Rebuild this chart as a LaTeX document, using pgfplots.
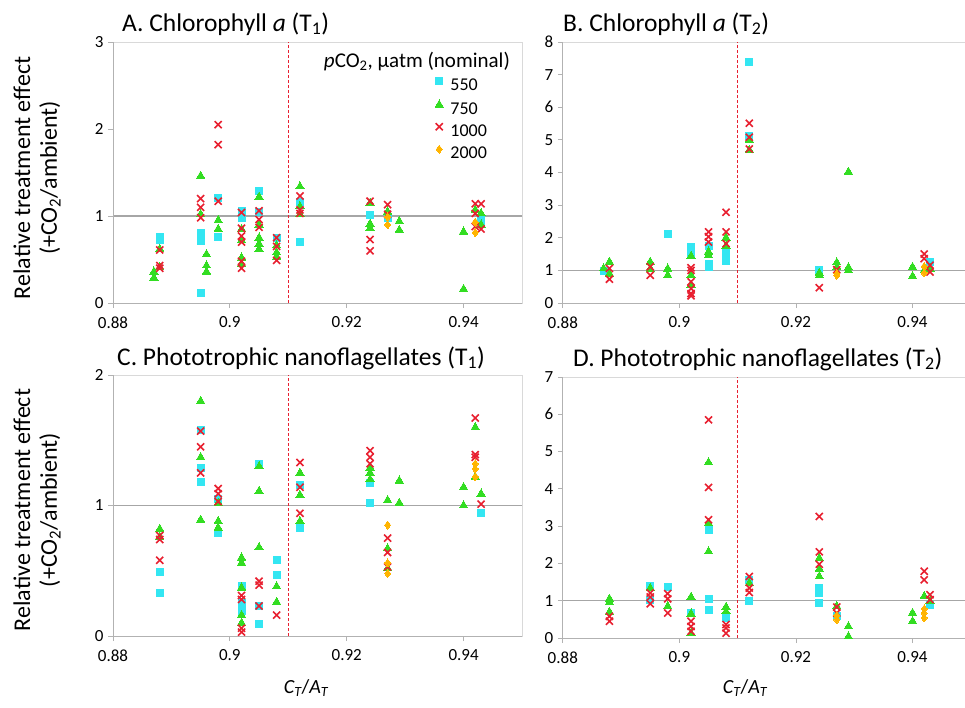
\documentclass[border=0pt]{standalone}
\usepackage{fontspec}
\setmainfont{Carlito}
\usepackage{pgfplots}
\pgfplotsset{compat=1.18}

\definecolor{c550}{RGB}{51,230,242}
\definecolor{c750}{RGB}{51,221,34}
\definecolor{c1000}{RGB}{232,32,48}
\definecolor{c2000}{RGB}{255,180,0}
\definecolor{boxgray}{RGB}{217,217,217}
\definecolor{axgray}{RGB}{178,178,178}
\definecolor{refgray}{RGB}{166,166,166}

\pgfplotsset{
  panel/.style={
    scale only axis, width=409pt, height=261pt,
    xmin=0.88, xmax=0.95, ymin=0,
    xtick={0.88,0.9,0.92,0.94},
    axis line style={boxgray, line width=0.8pt},
    tick align=outside, xtick pos=bottom, ytick pos=left,
    major tick length=5pt, minor tick num=0,
    tick style={axgray, line width=0.8pt},
    ticklabel style={font=\fontsize{17}{20}\selectfont},
    xticklabel style={yshift=-5pt},
    yticklabel style={xshift=-1pt},
    /pgf/number format/assume math mode=true,
    clip=false,
  },
  s550/.style={color=c550, only marks, mark=square*, mark size=3.5pt,
    mark options={solid, draw=c550, fill=c550, line width=0pt}},
  s750/.style={color=c750, only marks, mark=triangle*, mark size=4.8pt,
    mark options={solid, draw=c750, fill=c750, line width=0pt}},
  s1000/.style={color=c1000, only marks, mark=x, mark size=5pt,
    mark options={solid, draw=c1000, line width=1.6pt}},
  s2000/.style={color=c2000, only marks, mark=diamond*, mark size=4pt,
    mark options={solid, draw=c2000, fill=c2000, line width=0pt}},
  refline/.style={draw=refgray, line width=1.3pt, no marks, forget plot},
}

% grey left/bottom axis lines and the dashed red divider at C_T/A_T = 0.91
\newcommand{\axframe}[1]{%
  \draw[axgray, line width=0.8pt] (rel axis cs:0,1) -- (rel axis cs:0,0) -- (rel axis cs:1,0);
  \draw[c1000, line width=1pt, dash pattern=on 3pt off 2pt] (axis cs:0.91,0) -- (axis cs:0.91,#1);}

\begin{document}
\begin{tikzpicture}
\useasboundingbox (0pt,0pt) rectangle (965pt,-707pt);

% ---------- A. Chlorophyll a (T1)
\begin{axis}[panel, at={(113pt,-42pt)}, anchor=north west,
  ymax=3, ytick={0,1,2,3},
  legend style={at={(rel axis cs:0.787,0.863)}, anchor=north west,
    draw=none, fill=none, font=\fontsize{18}{21}\selectfont,
    inner sep=0pt, row sep=5pt, column sep=7pt,
    nodes={inner sep=0pt, text height=13pt, text depth=4pt}},
  legend cell align=left,
  legend image code/.code={\draw[#1, yshift=5pt] plot coordinates {(0pt,0pt)};},
]
\addplot[refline] coordinates {(0.88,1) (0.95,1)};
\axframe{3}
\addplot[s550] coordinates {
(0.888,0.76) (0.888,0.72) (0.895,0.80) (0.895,0.71) (0.895,0.115)
(0.898,1.21) (0.898,0.76) (0.902,1.06) (0.902,0.98) (0.905,1.29) (0.905,1.05)
(0.908,0.75) (0.912,1.16) (0.912,0.70) (0.924,1.01) (0.927,0.98)
(0.943,0.97) (0.943,0.94)};
\addlegendentry{550}
\addplot[s750] coordinates {
(0.887,0.36) (0.887,0.29) (0.888,0.62) (0.888,0.41) (0.895,1.46) (0.895,1.02)
(0.896,0.56) (0.896,0.43) (0.896,0.36) (0.898,0.95) (0.898,0.85)
(0.902,0.85) (0.902,0.72) (0.902,0.52) (0.902,0.45)
(0.905,1.22) (0.905,0.90) (0.905,0.75) (0.905,0.68) (0.905,0.62)
(0.908,0.66) (0.908,0.58) (0.908,0.53) (0.912,1.34) (0.912,1.11) (0.912,1.02)
(0.924,1.15) (0.924,0.91) (0.924,0.86) (0.927,1.05) (0.929,0.94) (0.929,0.84)
(0.940,0.82) (0.940,0.16) (0.942,1.07) (0.943,1.03) (0.943,0.90)};
\addlegendentry{750}
\addplot[s1000] coordinates {
(0.888,0.61) (0.888,0.43) (0.888,0.40) (0.895,1.20) (0.895,1.10) (0.895,0.98)
(0.898,2.05) (0.898,1.82) (0.898,1.17)
(0.902,1.04) (0.902,0.86) (0.902,0.77) (0.902,0.70) (0.902,0.48) (0.902,0.40)
(0.905,1.06) (0.905,0.96) (0.905,0.87) (0.908,0.75) (0.908,0.65) (0.908,0.49)
(0.912,1.23) (0.912,1.07) (0.912,1.03) (0.924,1.17) (0.924,0.73) (0.924,0.60)
(0.927,1.13) (0.927,1.02) (0.942,1.14) (0.942,1.03) (0.942,0.88)
(0.943,1.14) (0.943,0.85)};
\addlegendentry{1000}
\addplot[s2000] coordinates {
(0.927,0.99) (0.927,0.90) (0.942,0.93) (0.942,0.81)};
\addlegendentry{2000}
\node[anchor=base east, font=\fontsize{21}{24}\selectfont, inner sep=0pt]
  at (rel axis cs:0.971,0.904) {\textit{p}CO\textsubscript{2}, µatm (nominal)};
\end{axis}

% ---------- B. Chlorophyll a (T2)
\begin{axis}[panel, at={(562.8pt,-42pt)}, anchor=north west,
  width=402.2pt, xmax=0.949, ymax=8, ytick={0,1,2,3,4,5,6,7,8}]
\addplot[refline] coordinates {(0.88,1) (0.949,1)};
\axframe{8}
\addplot[s550] coordinates {
(0.887,0.97) (0.898,2.11) (0.902,1.72) (0.902,1.52) (0.905,1.75) (0.905,1.21)
(0.905,1.10) (0.908,1.52) (0.908,1.28) (0.912,7.38) (0.912,5.12) (0.924,1.02)
(0.943,1.26)};
\addplot[s750] coordinates {
(0.887,1.06) (0.888,1.26) (0.888,0.90) (0.895,1.26) (0.895,1.05) (0.898,1.05)
(0.898,0.85) (0.902,1.44) (0.902,0.85) (0.902,0.54) (0.905,1.57) (0.905,1.46)
(0.908,2.00) (0.908,1.75) (0.912,5.00) (0.912,4.69) (0.924,0.92) (0.924,0.85)
(0.927,1.24) (0.927,1.10) (0.929,4.02) (0.929,1.09) (0.929,1.00)
(0.940,1.10) (0.940,0.82) (0.942,1.00) (0.943,1.05)};
\addplot[s1000] coordinates {
(0.888,1.06) (0.888,0.73) (0.895,1.11) (0.895,0.85)
(0.902,1.08) (0.902,1.00) (0.902,0.65) (0.902,0.44) (0.902,0.29) (0.902,0.22)
(0.905,2.18) (0.905,2.03) (0.905,1.87) (0.908,2.78) (0.908,2.18) (0.908,1.82)
(0.912,5.51) (0.912,5.08) (0.912,4.72) (0.924,0.47) (0.927,1.02)
(0.942,1.50) (0.942,1.36) (0.943,1.16) (0.943,0.95)};
\addplot[s2000] coordinates {
(0.927,0.90) (0.927,0.85) (0.942,1.12) (0.942,0.92)};
\end{axis}

% ---------- C. Phototrophic nanoflagellates (T1)
\begin{axis}[panel, at={(113pt,-375pt)}, anchor=north west,
  ymax=2, ytick={0,1,2}]
\addplot[refline] coordinates {(0.88,1) (0.95,1)};
\axframe{2}
\addplot[s550] coordinates {
(0.888,0.49) (0.888,0.33) (0.895,1.58) (0.895,1.29) (0.895,1.18)
(0.898,1.05) (0.898,0.79) (0.902,0.38) (0.902,0.25) (0.902,0.19)
(0.905,1.32) (0.905,0.23) (0.905,0.09) (0.908,0.58) (0.908,0.47)
(0.912,1.16) (0.912,0.83) (0.924,1.17) (0.924,1.02) (0.943,0.94)};
\addplot[s750] coordinates {
(0.888,0.82) (0.888,0.76) (0.895,1.80) (0.895,1.37) (0.895,0.89)
(0.898,1.02) (0.898,0.88) (0.898,0.83)
(0.902,0.60) (0.902,0.56) (0.902,0.37) (0.902,0.16) (0.902,0.10)
(0.905,1.30) (0.905,1.11) (0.905,0.68) (0.908,0.38) (0.908,0.26)
(0.912,1.25) (0.912,1.08) (0.912,0.88) (0.924,1.29) (0.924,1.25) (0.924,1.20)
(0.927,1.04) (0.927,0.67) (0.927,0.52) (0.929,1.19) (0.929,1.02)
(0.940,1.14) (0.940,1.00) (0.942,1.60) (0.942,1.22) (0.943,1.09)};
\addplot[s1000] coordinates {
(0.888,0.77) (0.888,0.74) (0.888,0.58) (0.895,1.57) (0.895,1.45) (0.895,1.25)
(0.898,1.13) (0.898,1.09) (0.898,1.03)
(0.902,0.31) (0.902,0.28) (0.902,0.06) (0.902,0.03)
(0.905,0.42) (0.905,0.39) (0.905,0.23) (0.908,0.16)
(0.912,1.33) (0.912,1.14) (0.912,0.94) (0.924,1.42) (0.924,1.37) (0.924,1.32)
(0.927,0.75) (0.927,0.64) (0.927,0.53) (0.942,1.67) (0.942,1.39) (0.942,1.37)
(0.943,1.01)};
\addplot[s2000] coordinates {
(0.927,0.85) (0.927,0.56) (0.927,0.48) (0.942,1.32) (0.942,1.28) (0.942,1.22)};
\end{axis}

% ---------- D. Phototrophic nanoflagellates (T2)
\begin{axis}[panel, at={(562.8pt,-377pt)}, anchor=north west,
  width=402.2pt, xmax=0.949, ymax=7, ytick={0,1,2,3,4,5,6,7}]
\addplot[refline] coordinates {(0.88,1) (0.949,1)};
\axframe{7}
\addplot[s550] coordinates {
(0.895,1.40) (0.895,1.03) (0.898,1.38) (0.902,0.67) (0.905,2.89) (0.905,1.04)
(0.905,0.75) (0.908,0.54) (0.912,1.55) (0.912,1.00) (0.924,1.34) (0.924,1.21)
(0.924,0.94) (0.927,0.60) (0.943,0.89)};
\addplot[s750] coordinates {
(0.888,1.05) (0.888,0.96) (0.888,0.70) (0.895,1.34) (0.898,0.85)
(0.902,1.10) (0.902,0.65) (0.902,0.12) (0.905,4.71) (0.905,3.08) (0.905,2.32)
(0.908,0.83) (0.908,0.71) (0.912,1.47) (0.924,2.14) (0.924,1.85) (0.924,1.65)
(0.927,0.85) (0.929,0.31) (0.929,0.04) (0.940,0.67) (0.940,0.45)
(0.942,1.12) (0.943,0.98)};
\addplot[s1000] coordinates {
(0.888,0.58) (0.888,0.45) (0.895,1.21) (0.895,1.10) (0.895,0.92)
(0.898,1.19) (0.898,1.05) (0.898,0.67) (0.902,0.45) (0.902,0.31) (0.902,0.18)
(0.905,5.85) (0.905,4.04) (0.905,3.17) (0.908,0.36) (0.908,0.27) (0.908,0.13)
(0.912,1.65) (0.912,1.34) (0.912,1.22) (0.924,3.26) (0.924,2.31) (0.924,1.98)
(0.927,0.83) (0.927,0.67) (0.942,1.79) (0.942,1.56) (0.943,1.16) (0.943,1.03)};
\addplot[s2000] coordinates {
(0.927,0.60) (0.927,0.49) (0.942,0.78) (0.942,0.67) (0.942,0.54)};
\end{axis}

% ---------- panel titles
\begin{scope}[every node/.style={anchor=base west, inner sep=0pt, font=\fontsize{25.5}{30}\selectfont}]
\node at (122pt,-31pt) {A. Chlorophyll \textit{a} (T\textsubscript{1})};
\node at (563pt,-31pt) {B. Chlorophyll \textit{a} (T\textsubscript{2})};
\node at (117pt,-365pt) {C. Phototrophic nanoflagellates (T\textsubscript{1})};
\node at (573pt,-366pt) {D. Phototrophic nanoflagellates (T\textsubscript{2})};
\end{scope}

% ---------- axis titles
\begin{scope}[every node/.style={inner sep=0pt, rotate=90, font=\fontsize{24}{28}\selectfont}]
\node at (22pt,-178pt) {Relative treatment effect};
\node at (50pt,-178pt) {(+CO\textsubscript{2}/ambient)};
\node at (22pt,-510pt) {Relative treatment effect};
\node at (50pt,-510pt) {(+CO\textsubscript{2}/ambient)};
\end{scope}
\begin{scope}[every node/.style={inner sep=0pt, font=\fontsize{20}{24}\selectfont}]
\node at (306pt,-688pt) {\textit{C\textsubscript{T}}/\textit{A\textsubscript{T}}};
\node at (745pt,-688pt) {\textit{C\textsubscript{T}}/\textit{A\textsubscript{T}}};
\end{scope}
\end{tikzpicture}
\end{document}
